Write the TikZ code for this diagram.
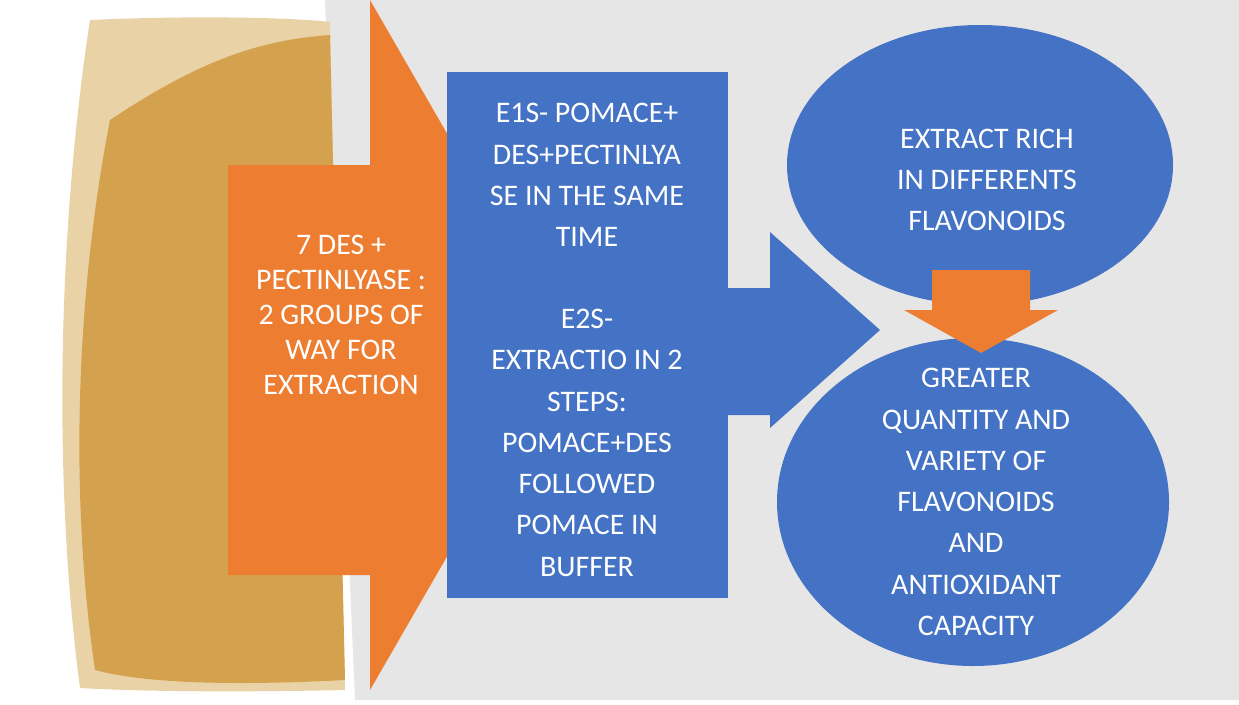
\documentclass[tikz,border=0pt]{standalone}
\usepackage{fontspec}
\setmainfont{Carlito}
\usetikzlibrary{shapes.geometric}
\definecolor{bl}{HTML}{4472C4}
\definecolor{og}{HTML}{ED7D31}
\definecolor{gr}{HTML}{E7E6E6}
\definecolor{gold}{HTML}{D4A24E}
\definecolor{goldl}{HTML}{E9D3A6}
\tikzset{txt/.style={text=white,align=center,font=\fontsize{17}{23.5}\selectfont},
 txts/.style={text=white,align=center,font=\fontsize{17}{20}\selectfont}}
\begin{document}
\begin{tikzpicture}[x=0.02cm,y=-0.02cm]
\useasboundingbox (0,0) rectangle (1239,704);
\fill[white] (0,0) rectangle (1239,704);
\fill[gr] (325,0) -- (1239,0) -- (1239,700) -- (355,700) -- cycle;
% photo
\fill[goldl] (90,20) .. controls (200,15) and (300,18) .. (330,22) -- (345,690) .. controls (250,692) and (150,692) .. (80,688) .. controls (55,500) and (55,250) .. (90,20) -- cycle;
\fill[gold] (110,120) .. controls (200,60) and (260,40) .. (330,35) -- (345,680) .. controls (250,685) and (150,685) .. (95,670) .. controls (70,500) and (75,300) .. (110,120) -- cycle;
% orange arrow
\fill[og] (228,165) -- (370,165) -- (370,0) -- (569,345) -- (370,690) -- (370,575) -- (228,575) -- cycle;
\node[txts] (o) at (341,315) {7 DES +\\PECTINLYASE :\\2 GROUPS OF\\WAY FOR\\EXTRACTION};
% blue arrow
\fill[bl] (700,288) -- (770,288) -- (770,232) -- (880,330) -- (770,428) -- (770,415) -- (700,415) -- cycle;
\fill[bl] (447,72) rectangle (728,598);
\node[txt] (b) at (587,340) {E1S- POMACE+\\DES+PECTINLYA\\SE IN THE SAME\\TIME\\[23pt]E2S-\\EXTRACTIO IN 2\\STEPS:\\POMACE+DES\\FOLLOWED\\POMACE IN\\BUFFER};
% ellipses
\fill[bl] (980,165) ellipse [x radius=193, y radius=140];
\node[txt] (e1) at (987,180) {EXTRACT RICH\\IN DIFFERENTS\\FLAVONOIDS};
\fill[bl] (973,502) ellipse [x radius=196, y radius=164];
\node[txt] (e2) at (976,502) {GREATER\\QUANTITY AND\\VARIETY OF\\FLAVONOIDS\\AND\\ANTIOXIDANT\\CAPACITY};
\fill[og] (932,270) -- (1030,270) -- (1030,310) -- (1058,310) -- (981,353) -- (904,310) -- (932,310) -- cycle;
\end{tikzpicture}
\end{document}
